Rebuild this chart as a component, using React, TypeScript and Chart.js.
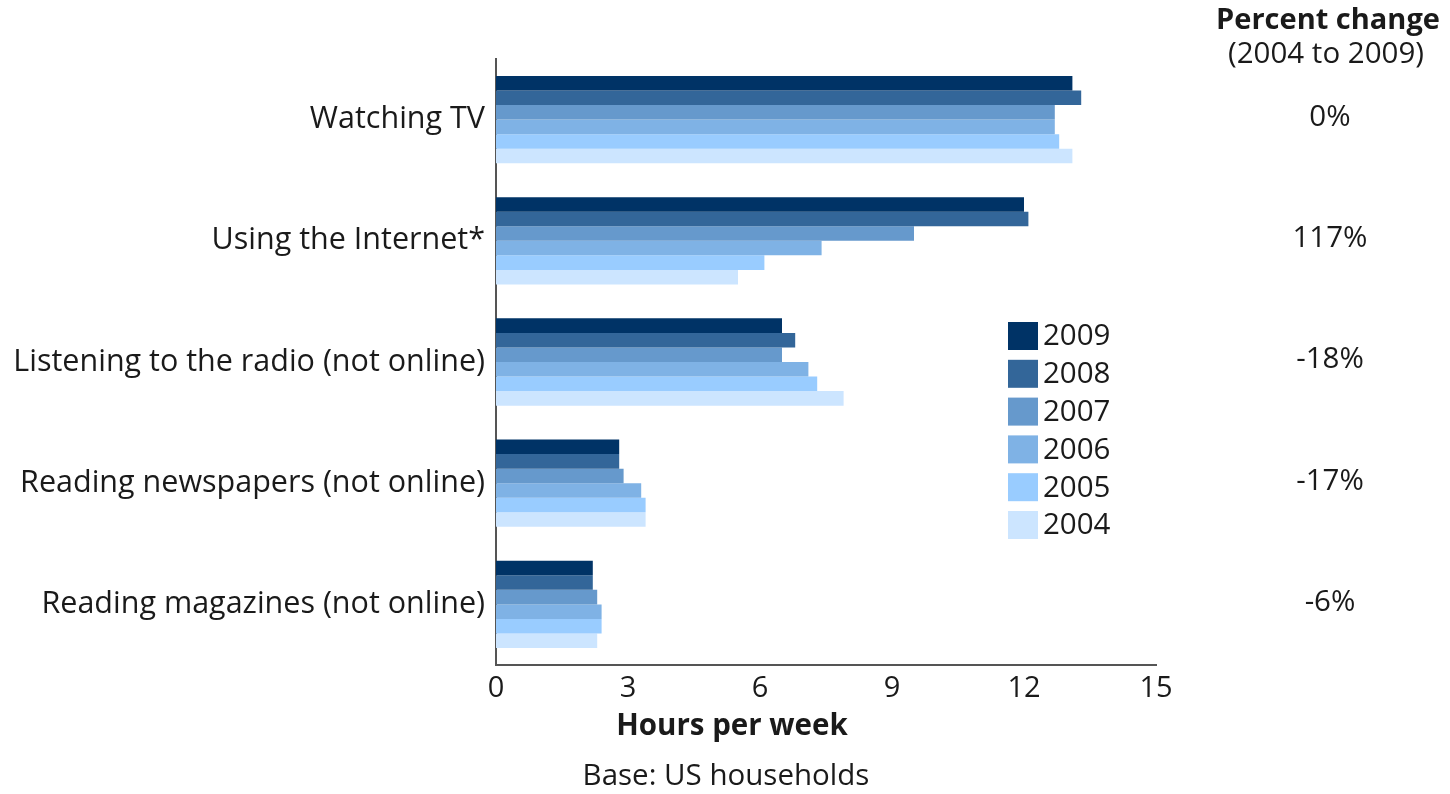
import React, { useEffect, useRef } from "react";
import { Chart, registerables } from "chart.js";

Chart.register(...registerables);

const categories = [
  "Watching TV",
  "Using the Internet*",
  "Listening to the radio (not online)",
  "Reading newspapers (not online)",
  "Reading magazines (not online)",
];
const years = ["2009", "2008", "2007", "2006", "2005", "2004"];
const values2009 = [13.1, 12.0, 6.5, 2.8, 2.2];
const values2008 = [13.3, 12.1, 6.8, 2.8, 2.2];
const values2007 = [12.7, 9.5, 6.5, 2.9, 2.3];
const values2006 = [12.7, 7.4, 7.1, 3.3, 2.4];
const values2005 = [12.8, 6.1, 7.3, 3.4, 2.4];
const values2004 = [13.1, 5.5, 7.9, 3.4, 2.3];
const percentChange = ["0%", "117%", "-18%", "-17%", "-6%"];
const colors = ["#003366", "#336699", "#6699cc", "#7fb2e5", "#99ccff", "#cce5ff"];
const xTicks = [0, 3, 6, 9, 12, 15];

const FONT = "'Open Sans', 'Noto Sans', sans-serif";
const TEXT = "#1a1a1a";

const extrasPlugin = {
  id: "extras",
  afterDraw(chart: any) {
    const ctx = chart.ctx;
    const yScale = chart.scales.y;
    ctx.save();
    ctx.fillStyle = TEXT;
    ctx.textAlign = "center";
    ctx.textBaseline = "middle";
    // percent change column
    ctx.font = `bold 29px ${FONT}`;
    ctx.fillText("Percent change", 1328, 21);
    ctx.font = `29.5px ${FONT}`;
    ctx.fillText("(2004 to 2009)", 1326, 55);
    percentChange.forEach((p, i) => {
      const y = yScale.getPixelForValue(i);
      ctx.fillText(p, 1330, y - 2);
    });
    // axis title and base note
    ctx.font = `bold 29.5px ${FONT}`;
    ctx.fillText("Hours per week", 732, 727);
    ctx.font = `29.5px ${FONT}`;
    ctx.fillText("Base: US households", 726, 777);
    // legend
    ctx.textAlign = "left";
    ctx.font = `29.5px ${FONT}`;
    const lx = 1008;
    const ly = 322;
    const step = 37.8;
    years.forEach((yr, i) => {
      ctx.fillStyle = colors[i];
      ctx.fillRect(lx, ly + i * step, 30, 28);
      ctx.fillStyle = TEXT;
      ctx.fillText(yr, lx + 35, ly + i * step + 15);
    });
    ctx.restore();
  },
};

export default function App() {
  const ref = useRef<HTMLCanvasElement | null>(null);
  useEffect(() => {
    document.body.style.margin = "0";
    const seriesList = [values2009, values2008, values2007, values2006, values2005, values2004];
    const chart = new Chart(ref.current as HTMLCanvasElement, {
      type: "bar",
      data: {
        labels: categories,
        datasets: years.map((yr, i) => ({
          label: yr,
          data: seriesList[i],
          backgroundColor: colors[i],
          borderWidth: 0,
          categoryPercentage: 0.72,
          barPercentage: 1.0,
        })),
      },
      options: {
        indexAxis: "y",
        animation: false,
        responsive: false,
        maintainAspectRatio: false,
        layout: { padding: { top: 59, right: 294, left: 0, bottom: 0 } },
        plugins: {
          legend: { display: false },
          tooltip: { enabled: false },
        },
        scales: {
          x: {
            type: "linear",
            min: 0,
            max: 15,
            afterBuildTicks: (scale: any) => {
              scale.ticks = xTicks.map((v) => ({ value: v }));
            },
            afterFit: (scale: any) => {
              scale.height = 129;
            },
            grid: { display: false, drawTicks: false },
            border: { display: true, color: "#555555", width: 2 },
            ticks: {
              font: { family: FONT, size: 29 },
              color: TEXT,
              padding: 6,
              maxRotation: 0,
            },
          },
          y: {
            type: "category",
            afterFit: (scale: any) => {
              scale.width = 496;
            },
            grid: { display: false, drawTicks: false },
            border: { display: true, color: "#555555", width: 2 },
            ticks: {
              font: { family: FONT, size: 30.5 },
              color: TEXT,
              padding: 11,
            },
          },
        },
      },
      plugins: [extrasPlugin],
    } as any);
    return () => chart.destroy();
  }, []);
  return (
    <div style={{ position: "absolute", left: 0, top: 0, width: 1450, height: 794, background: "#fff" }}>
      <canvas ref={ref} width={1450} height={794} style={{ width: 1450, height: 794, display: "block" }} />
    </div>
  );
}
